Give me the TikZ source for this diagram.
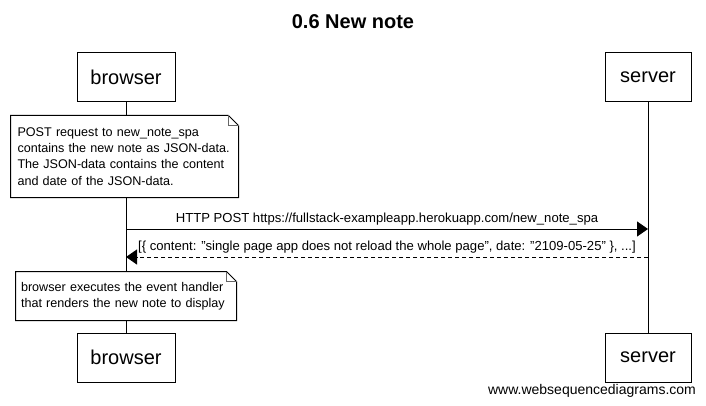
\documentclass[tikz,border=0pt]{standalone}
\usepackage{fontspec}
\setmainfont{Liberation Sans}[Ligatures=ResetAll]
\usepackage{tikz}
\usetikzlibrary{positioning,arrows.meta,calc}

\begin{document}
\begin{tikzpicture}[
  x=1pt,y=-1pt,
  line width=1pt,
  actor/.style={rectangle,draw,fill=white,minimum width=98pt,minimum height=49pt,inner sep=0pt,font=\fontsize{20}{24}\selectfont},
  notebox/.style={rectangle,fill=white,inner ysep=0pt,align=left,font=\fontsize{12.6}{16.3}\selectfont},
  msg/.style={-{Triangle[length=11pt,width=15pt]}},
  reply/.style={msg,dash pattern=on 4pt off 3pt},
  msglbl/.style={font=\fontsize{13.1}{16}\selectfont,inner sep=3pt},
]
\useasboundingbox (0,0) rectangle (706,406);
% Title
\node[font=\fontsize{20}{24}\selectfont\bfseries] (title) at (353,22) {0.6 New note};

% Participants, top and bottom
\node[actor] (btop) at (126,77.5)  {browser};
\node[actor,minimum width=86pt] (stop) at (648,77.5)  {server};
\node[actor] (bbot) at (126,357.5) {browser};
\node[actor,minimum width=86pt] (sbot) at (648,357.5) {server};

% Lifelines
\draw (btop.south) -- (bbot.north);
\draw (stop.south) -- (sbot.north);

% First note
\node[notebox,minimum width=227pt,minimum height=81pt,text width=214pt,inner xsep=6.5pt] (note1) at (124.5,156.5)
  {POST request to new\_note\_spa\\contains the new note as JSON-data.\\The JSON-data contains the content\\and date of the JSON-data.};
\draw (note1.north west) -- ($(note1.north east)+(-10,0)$) -- ($(note1.north east)+(0,10)$) -- (note1.south east) -- (note1.south west) -- cycle;
\draw[black!60] ($(note1.north east)+(-10,0)$) -- ($(note1.north east)+(-10,10)$) -- ($(note1.north east)+(0,10)$);

% Messages
\coordinate (b1) at (126,229);
\coordinate (s1) at (648,229);
\coordinate (s2) at (648,257);
\coordinate (b2) at (126,257);
\draw[msg] (b1) -- node[msglbl,above]{HTTP POST https://fullstack-exampleapp.herokuapp.com/new\_note\_spa} (s1);
\draw[reply] (s2) -- node[msglbl,above]{[\{ content: "single page app does not reload the whole page", date: "2109-05-25" \}, ...]} (b2);

% Second note
\node[notebox,minimum width=220pt,minimum height=48pt,text width=210pt,inner xsep=5pt] (note2) at (126,296)
  {browser executes the event handler\\that renders the new note to display};
\draw (note2.north west) -- ($(note2.north east)+(-10,0)$) -- ($(note2.north east)+(0,10)$) -- (note2.south east) -- (note2.south west) -- cycle;
\draw[black!60] ($(note2.north east)+(-10,0)$) -- ($(note2.north east)+(-10,10)$) -- ($(note2.north east)+(0,10)$);

% Watermark
\node[font=\fontsize{14}{17}\selectfont] (wsd) at (592,391) {www.websequencediagrams.com};
\end{tikzpicture}
\end{document}
